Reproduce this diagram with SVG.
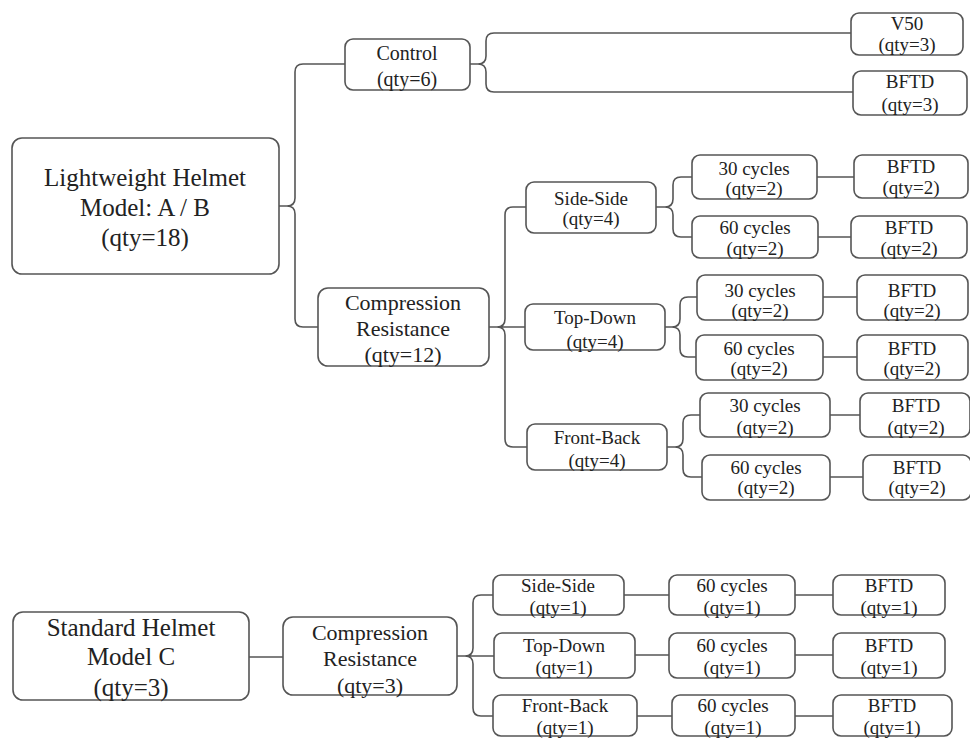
<svg xmlns="http://www.w3.org/2000/svg" width="970" height="738" viewBox="0 0 970 738">
<style>
.n{fill:#fff;stroke:#555;stroke-width:1.6}
.c{fill:none;stroke:#555;stroke-width:1.6}
text{font-family:"Liberation Serif","Times New Roman",serif;fill:#222;text-anchor:middle}
.b{font-size:25px}
.m{font-size:22px}
.s{font-size:19px}
.k{font-size:20px}
</style>
<rect width="970" height="738" fill="#fff"/>
<g id="connectors">
<path class="c" d="M279,206 H287 Q295,206 295,198 V72 Q295,64 303,64 H345 M287,206 Q295,206 295,214 V319 Q295,327 303,327 H318"/>
<path class="c" d="M470,64 H478 Q486,64 486,56 V41 Q486,33 494,33 H851 M478,64 Q486,64 486,72 V84 Q486,92 494,92 H853"/>
<path class="c" d="M489,327 H497 Q505,327 505,319 V215 Q505,207 513,207 H526 M497,327 Q505,327 505,335 V439 Q505,447 513,447 H527 M497,327 H525"/>
<path class="c" d="M656,207 H665 Q673,207 673,199 V185 Q673,177 681,177 H692 M665,207 Q673,207 673,215 V229 Q673,237 681,237 H692"/>
<path class="c" d="M665,327 H672 Q680,327 680,319 V305 Q680,297 688,297 H697 M672,327 Q680,327 680,335 V349 Q680,357 688,357 H696"/>
<path class="c" d="M667,447 H675 Q683,447 683,439 V423 Q683,415 691,415 H700 M675,447 Q683,447 683,455 V469 Q683,477 691,477 H702"/>
<path class="c" d="M817,177 H854 M818,237 H851 M823,297 H857 M823,357 H857 M830,415 H860 M830,477 H863"/>
<path class="c" d="M249,657 H283"/>
<path class="c" d="M457,656 H465 Q473,656 473,648 V603 Q473,595 481,595 H493 M465,656 Q473,656 473,664 V708 Q473,716 481,716 H493 M465,656 H494"/>
<path class="c" d="M624,595 H669 M795,595 H833 M635,655 H669 M795,655 H833 M637,716 H672 M795,716 H833"/>
</g>
<g id="main">
<rect class="n" x="12" y="138" width="267" height="136" rx="10"/>
<text class="b" x="145" y="186">Lightweight Helmet</text>
<text class="b" x="145" y="216">Model: A / B</text>
<text class="b" x="145" y="246">(qty=18)</text>
</g>
<g id="control">
<rect class="n" x="345" y="39" width="125" height="51" rx="8"/>
<text class="k" x="407" y="60">Control</text>
<text class="k" x="407" y="86">(qty=6)</text>
</g>
<g id="v50">
<rect class="n" x="851" y="13" width="112" height="42" rx="8"/>
<text class="s" x="907" y="30">V50</text>
<text class="s" x="907" y="51">(qty=3)</text>
</g>
<g id="bftd-control">
<rect class="n" x="853" y="71" width="114" height="44" rx="8"/>
<text class="s" x="910" y="88">BFTD</text>
<text class="s" x="910" y="111">(qty=3)</text>
</g>
<g id="compression">
<rect class="n" x="318" y="288" width="171" height="78" rx="10"/>
<text class="m" x="403" y="310">Compression</text>
<text class="m" x="403" y="336">Resistance</text>
<text class="m" x="403" y="362">(qty=12)</text>
</g>
<g id="side-side">
<rect class="n" x="526" y="182" width="130" height="51" rx="8"/>
<text class="s" x="591" y="205">Side-Side</text>
<text class="s" x="591" y="225">(qty=4)</text>
</g>
<g id="top-down">
<rect class="n" x="525" y="304" width="140" height="46" rx="8"/>
<text class="s" x="595" y="324">Top-Down</text>
<text class="s" x="595" y="348">(qty=4)</text>
</g>
<g id="front-back">
<rect class="n" x="527" y="424" width="140" height="46" rx="8"/>
<text class="s" x="597" y="444">Front-Back</text>
<text class="s" x="597" y="467">(qty=4)</text>
</g>
<g id="ss-30">
<rect class="n" x="692" y="155" width="125" height="44" rx="8"/>
<text class="s" x="754" y="175">30 cycles</text>
<text class="s" x="754" y="195">(qty=2)</text>
</g>
<g id="ss-60">
<rect class="n" x="692" y="216" width="126" height="42" rx="8"/>
<text class="s" x="755" y="234">60 cycles</text>
<text class="s" x="755" y="255">(qty=2)</text>
</g>
<g id="ss-30-bftd">
<rect class="n" x="854" y="155" width="114" height="43" rx="8"/>
<text class="s" x="911" y="173">BFTD</text>
<text class="s" x="911" y="194">(qty=2)</text>
</g>
<g id="ss-60-bftd">
<rect class="n" x="851" y="216" width="116" height="42" rx="8"/>
<text class="s" x="909" y="234">BFTD</text>
<text class="s" x="909" y="255">(qty=2)</text>
</g>
<g id="td-30">
<rect class="n" x="697" y="275" width="126" height="45" rx="8"/>
<text class="s" x="760" y="297">30 cycles</text>
<text class="s" x="760" y="317">(qty=2)</text>
</g>
<g id="td-60">
<rect class="n" x="696" y="335" width="127" height="45" rx="8"/>
<text class="s" x="759" y="355">60 cycles</text>
<text class="s" x="759" y="375">(qty=2)</text>
</g>
<g id="td-30-bftd">
<rect class="n" x="857" y="275" width="111" height="45" rx="8"/>
<text class="s" x="912" y="297">BFTD</text>
<text class="s" x="912" y="317">(qty=2)</text>
</g>
<g id="td-60-bftd">
<rect class="n" x="857" y="335" width="111" height="45" rx="8"/>
<text class="s" x="912" y="355">BFTD</text>
<text class="s" x="912" y="375">(qty=2)</text>
</g>
<g id="fb-30">
<rect class="n" x="700" y="393" width="130" height="44" rx="8"/>
<text class="s" x="765" y="412">30 cycles</text>
<text class="s" x="765" y="434">(qty=2)</text>
</g>
<g id="fb-60">
<rect class="n" x="702" y="455" width="128" height="45" rx="8"/>
<text class="s" x="766" y="474">60 cycles</text>
<text class="s" x="766" y="494">(qty=2)</text>
</g>
<g id="fb-30-bftd">
<rect class="n" x="860" y="393" width="110" height="44" rx="8"/>
<text class="s" x="916" y="412">BFTD</text>
<text class="s" x="916" y="434">(qty=2)</text>
</g>
<g id="fb-60-bftd">
<rect class="n" x="863" y="455" width="108" height="45" rx="8"/>
<text class="s" x="917" y="474">BFTD</text>
<text class="s" x="917" y="494">(qty=2)</text>
</g>
<g id="standard">
<rect class="n" x="13" y="612" width="236" height="88" rx="10"/>
<text class="b" x="131" y="636">Standard Helmet</text>
<text class="b" x="131" y="665">Model C</text>
<text class="b" x="131" y="696">(qty=3)</text>
</g>
<g id="compression-c">
<rect class="n" x="283" y="617" width="174" height="78" rx="10"/>
<text class="m" x="370" y="640">Compression</text>
<text class="m" x="370" y="666">Resistance</text>
<text class="m" x="370" y="693">(qty=3)</text>
</g>
<g id="c-side-side">
<rect class="n" x="493" y="575" width="131" height="40" rx="8"/>
<text class="s" x="558" y="592">Side-Side</text>
<text class="s" x="558" y="614">(qty=1)</text>
</g>
<g id="c-ss-60">
<rect class="n" x="669" y="575" width="126" height="40" rx="8"/>
<text class="s" x="732" y="592">60 cycles</text>
<text class="s" x="732" y="614">(qty=1)</text>
</g>
<g id="c-ss-bftd">
<rect class="n" x="833" y="575" width="112" height="40" rx="8"/>
<text class="s" x="889" y="592">BFTD</text>
<text class="s" x="889" y="614">(qty=1)</text>
</g>
<g id="c-top-down">
<rect class="n" x="494" y="633" width="141" height="45" rx="8"/>
<text class="s" x="564" y="652">Top-Down</text>
<text class="s" x="564" y="674">(qty=1)</text>
</g>
<g id="c-td-60">
<rect class="n" x="669" y="633" width="126" height="45" rx="8"/>
<text class="s" x="732" y="652">60 cycles</text>
<text class="s" x="732" y="674">(qty=1)</text>
</g>
<g id="c-td-bftd">
<rect class="n" x="833" y="633" width="112" height="45" rx="8"/>
<text class="s" x="889" y="652">BFTD</text>
<text class="s" x="889" y="674">(qty=1)</text>
</g>
<g id="c-front-back">
<rect class="n" x="493" y="695" width="144" height="41" rx="8"/>
<text class="s" x="565" y="712">Front-Back</text>
<text class="s" x="565" y="734">(qty=1)</text>
</g>
<g id="c-fb-60">
<rect class="n" x="672" y="695" width="123" height="41" rx="8"/>
<text class="s" x="733" y="712">60 cycles</text>
<text class="s" x="733" y="734">(qty=1)</text>
</g>
<g id="c-fb-bftd">
<rect class="n" x="833" y="695" width="119" height="41" rx="8"/>
<text class="s" x="892" y="712">BFTD</text>
<text class="s" x="892" y="734">(qty=1)</text>
</g>
</svg>
